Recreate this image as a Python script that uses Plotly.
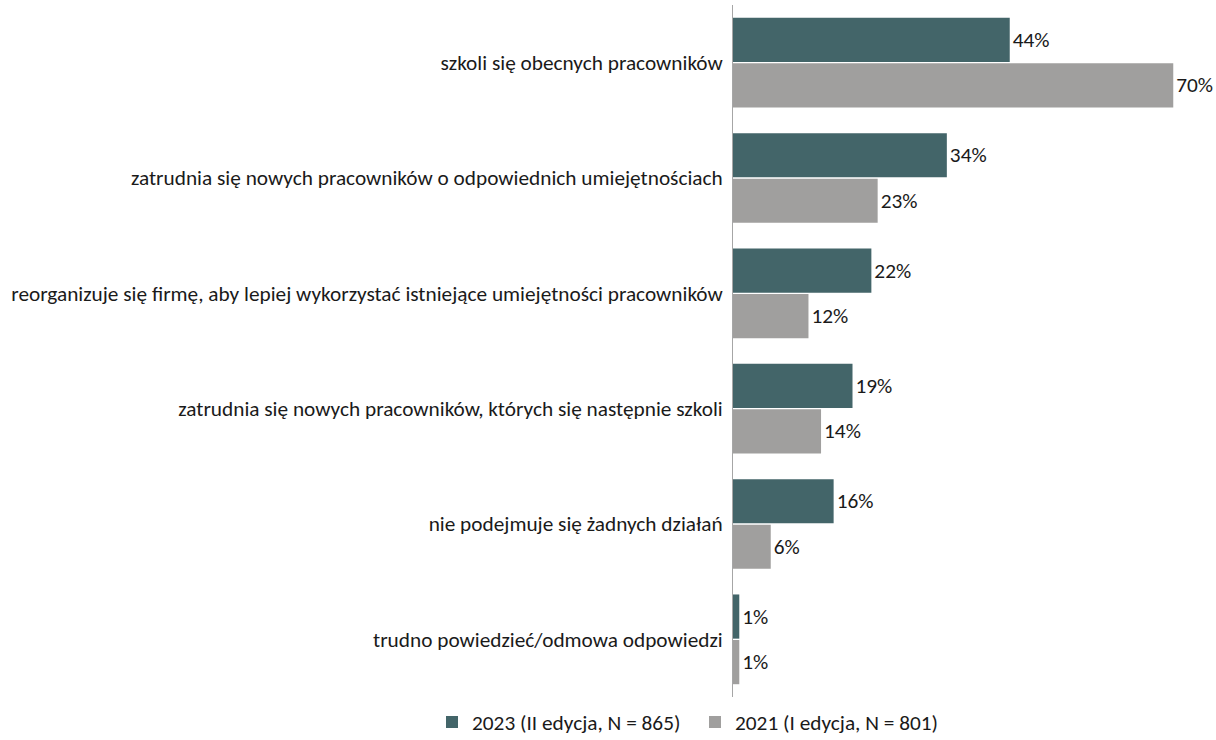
import plotly.graph_objects as go

categories = [
    "szkoli się obecnych pracowników",
    "zatrudnia się nowych pracowników o odpowiednich umiejętnościach",
    "reorganizuje się firmę, aby lepiej wykorzystać istniejące umiejętności pracowników",
    "zatrudnia się nowych pracowników, których się następnie szkoli",
    "nie podejmuje się żadnych działań",
    "trudno powiedzieć/odmowa odpowiedzi",
]
values_2023 = [44, 34, 22, 19, 16, 1]
values_2021 = [70, 23, 12, 14, 6, 1]
series_names = ["2023 (II edycja, N = 865)", "2021 (I edycja, N = 801)"]

FONT = "Carlito, Open Sans, sans-serif"
SIZE = 21.3
TEXT = "#1a1a1a"
colors = ["#436569", "#A09F9E"]
legend_ids = ["legend", "legend2"]

fig = go.Figure()
for name, vals, col, lg in zip(series_names, [values_2023, values_2021], colors, legend_ids):
    fig.add_trace(go.Bar(
        y=categories, x=vals, orientation="h", name=name, legend=lg,
        marker=dict(color=col, line=dict(width=0)),
        text=[f"{v}%" for v in vals], textposition="outside",
        textfont=dict(family=FONT, size=SIZE, color=TEXT),
        cliponaxis=False,
    ))

legend_style = dict(orientation="h", xref="container", yref="container",
                    xanchor="left", y=0.024, yanchor="middle",
                    font=dict(family=FONT, size=SIZE, color=TEXT),
                    itemwidth=30, bgcolor="rgba(0,0,0,0)")

fig.update_layout(
    width=1216, height=740,
    margin=dict(l=733, r=5, t=5, b=43, autoexpand=False),
    barmode="group", bargap=0.21, bargroupgap=0.03,
    plot_bgcolor="white", paper_bgcolor="white",
    font=dict(family=FONT, size=SIZE, color=TEXT),
    xaxis=dict(range=[0, 76], visible=False),
    yaxis=dict(autorange="reversed", showline=True, linecolor="#A6A6A6", linewidth=1,
               ticks="outside", ticklen=5, tickcolor="white", showgrid=False,
               tickfont=dict(family=FONT, size=SIZE, color=TEXT)),
    legend=dict(x=432 / 1216, **legend_style),
    legend2=dict(x=695 / 1216, **legend_style),
    showlegend=True,
)

fig.write_html("out.html")
